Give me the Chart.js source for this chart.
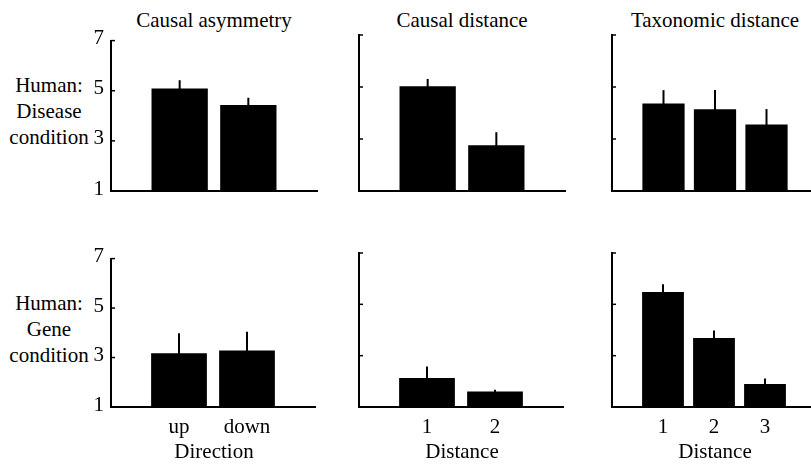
<!DOCTYPE html>
<html>
<head>
<meta charset="utf-8">
<script src="https://cdn.jsdelivr.net/npm/chart.js@4/dist/chart.umd.min.js"></script>
<style>
  html, body { margin: 0; padding: 0; background: #fff; overflow: hidden; }
  body { width: 811px; height: 464px; position: relative; font-family: "Liberation Serif", "DejaVu Serif", serif; font-size: 21px; color: #000; }
  canvas { position: absolute; }
  .lbl { position: absolute; text-align: center; white-space: nowrap; line-height: 26px; }
</style>
</head>
<body>
<script>
// column titles, row labels, x axis names
const colTitles = ['Causal asymmetry', 'Causal distance', 'Taxonomic distance'];
const rowLabels = [['Human:', 'Disease', 'condition'], ['Human:', 'Gene', 'condition']];
const xTitles = ['Direction', 'Distance', 'Distance'];

// categories per column
const catsDirection = ['up', 'down'];
const catsCausal = ['1', '2'];
const catsTaxo = ['1', '2', '3'];

// mean ratings (y axis 1..7) and error bar heights
const diseaseAsym = [5.09, 4.43];
const diseaseAsymErr = [0.33, 0.29];
const diseaseCausal = [5.03, 2.76];
const diseaseCausalErr = [0.28, 0.50];
const diseaseTaxo = [4.37, 4.14, 3.56];
const diseaseTaxoErr = [0.51, 0.74, 0.59];

const geneAsym = [3.17, 3.28];
const geneAsymErr = [0.81, 0.76];
const geneCausal = [2.13, 1.60];
const geneCausalErr = [0.45, 0.07];
const geneTaxo = [5.48, 3.69, 1.90];
const geneTaxoErr = [0.30, 0.29, 0.21];

const yTicks = [1, 3, 5, 7];

const FONT = { family: "'Liberation Serif', 'DejaVu Serif', serif", size: 21 };

const panels = [
  { row: 0, col: 0, cats: catsDirection, vals: diseaseAsym, errs: diseaseAsymErr },
  { row: 0, col: 1, cats: catsCausal, vals: diseaseCausal, errs: diseaseCausalErr },
  { row: 0, col: 2, cats: catsTaxo, vals: diseaseTaxo, errs: diseaseTaxoErr },
  { row: 1, col: 0, cats: catsDirection, vals: geneAsym, errs: geneAsymErr },
  { row: 1, col: 1, cats: catsCausal, vals: geneCausal, errs: geneCausalErr },
  { row: 1, col: 2, cats: catsTaxo, vals: geneTaxo, errs: geneTaxoErr }
];

const plotLeft = [111, 359, 612];
const plotTop = [35, 253];
const plotH = [156, 154];
const plotW = 206;
const yW = 60, padTop = 14, padRight = 6, xH = 38;

// error bars drawn upward from the bar top
const errorBars = {
  id: 'errorBars',
  afterDatasetsDraw(chart, args, opts) {
    const ctx = chart.ctx;
    const y = chart.scales.y;
    const meta = chart.getDatasetMeta(0);
    ctx.save();
    ctx.strokeStyle = '#000';
    ctx.lineWidth = 2;
    meta.data.forEach((bar, i) => {
      const v = opts.vals[i];
      ctx.beginPath();
      ctx.moveTo(bar.x, y.getPixelForValue(v) + 2);
      ctx.lineTo(bar.x, y.getPixelForValue(v + opts.errs[i]));
      ctx.stroke();
    });
    ctx.restore();
  }
};

// small tick marks pointing into the plot
const innerTicks = {
  id: 'innerTicks',
  afterDraw(chart) {
    const ctx = chart.ctx;
    const y = chart.scales.y;
    const left = chart.chartArea.left;
    ctx.save();
    ctx.strokeStyle = '#000';
    ctx.lineWidth = 1.5;
    y.ticks.forEach(t => {
      const py = y.getPixelForValue(t.value);
      ctx.beginPath();
      ctx.moveTo(left, py);
      ctx.lineTo(left + 4, py);
      ctx.stroke();
    });
    ctx.restore();
  }
};

function addLabel(text, left, top, width) {
  const d = document.createElement('div');
  d.className = 'lbl';
  d.style.left = left + 'px';
  d.style.top = top + 'px';
  d.style.width = width + 'px';
  d.innerHTML = text;
  document.body.appendChild(d);
}

colTitles.forEach((t, c) => addLabel(t, plotLeft[c], 7, plotW));
addLabel(rowLabels[0].join('<br>'), -1, 72, 100);
addLabel(rowLabels[1].join('<br>'), -1, 290, 100);

panels.forEach(p => {
  const cv = document.createElement('canvas');
  const w = yW + plotW + padRight;
  const h = padTop + plotH[p.row] + xH;
  cv.width = w; cv.height = h;
  cv.style.width = w + 'px'; cv.style.height = h + 'px';
  cv.style.left = (plotLeft[p.col] - yW) + 'px';
  cv.style.top = (plotTop[p.row] - padTop) + 'px';
  document.body.appendChild(cv);

  const n = p.cats.length;
  new Chart(cv.getContext('2d'), {
    type: 'bar',
    data: {
      datasets: [{
        data: p.vals.map((v, i) => ({ x: i + 1, y: v })),
        backgroundColor: '#000',
        borderWidth: 0,
        barPercentage: 0.82,
        categoryPercentage: 1
      }]
    },
    options: {
      responsive: false,
      animation: false,
      events: [],
      layout: { padding: { top: padTop, right: padRight, left: 0, bottom: 0 } },
      plugins: {
        legend: { display: false },
        tooltip: { enabled: false },
        errorBars: { vals: p.vals, errs: p.errs }
      },
      scales: {
        x: {
          type: 'linear',
          min: 0,
          max: n + 1,
          offset: false,
          grid: { display: false, drawTicks: false, tickLength: 0 },
          border: { display: true, color: '#000', width: 2 },
          afterFit: s => { s.height = xH; },
          ticks: {
            display: p.row === 1,
            stepSize: 1,
            autoSkip: false,
            maxRotation: 0,
            padding: 8,
            color: '#000',
            font: FONT,
            callback: v => p.cats[v - 1] || ''
          }
        },
        y: {
          min: 1,
          max: 7,
          grid: { display: false, drawTicks: false, tickLength: 0 },
          border: { display: true, color: '#000', width: 2 },
          afterFit: s => { s.width = yW; },
          afterBuildTicks: s => { s.ticks = yTicks.map(v => ({ value: v })); },
          ticks: {
            display: p.col === 0,
            padding: 7,
            labelOffset: -2,
            color: '#000',
            font: FONT
          }
        }
      }
    },
    plugins: [errorBars, innerTicks]
  });

  if (p.row === 1) addLabel(xTitles[p.col], plotLeft[p.col], 438, plotW);
});
</script>
</body>
</html>
